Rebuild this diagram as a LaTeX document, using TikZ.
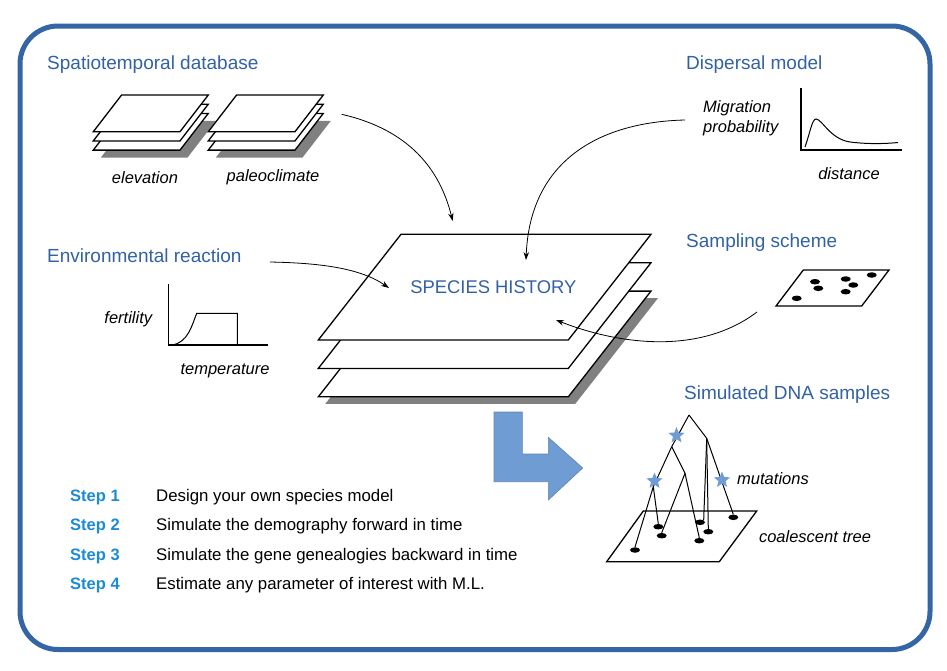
\documentclass[tikz,border=0pt]{standalone}
\usepackage{fontspec}
\setmainfont{Liberation Sans}
\usepackage{tikz}
\usetikzlibrary{arrows.meta,shapes.geometric}

\definecolor{frameblue}{RGB}{52,101,164}
\definecolor{headblue}{RGB}{50,98,163}
\definecolor{stepblue}{RGB}{28,138,212}
\definecolor{arrowblue}{RGB}{111,156,210}
\definecolor{shadowgray}{RGB}{128,128,128}

\tikzset{
  >={Stealth[length=8pt,width=5.5pt]},
  heading/.style={anchor=west,inner sep=0pt,text=headblue,font=\fontsize{19}{22}\selectfont},
  lbl/.style={inner sep=0pt,font=\fontsize{16.5}{20}\selectfont\itshape},
  steplbl/.style={anchor=west,inner sep=0pt,text=stepblue,font=\fontsize{16.5}{20}\selectfont\bfseries},
  steptxt/.style={anchor=west,inner sep=0pt,font=\fontsize{16.8}{20}\selectfont},
  layer/.style={draw=black,fill=white,line width=1.3pt,line join=miter},
  dot/.style={ellipse,fill=black,inner sep=0pt,minimum width=10pt,minimum height=5.5pt},
  mut/.style={star,star points=5,star point ratio=2.3,fill=arrowblue,inner sep=0pt,minimum size=17pt},
  branch/.style={line width=1pt},
  feed/.style={->,line width=0.8pt},
}

% stack of three layers: bottom left (x,y), width, height, skew, gap, shadow offset
\newcommand{\layerstack}[7]{%
  \fill[shadowgray] (#1+#7,#2+2*#6+#7) -- ++(#3,0) -- ++(#5,-#4) -- ++(-#3,0) -- cycle;
  \foreach \k in {2,1,0}
    \draw[layer] (#1,#2+\k*#6) -- ++(#3,0) -- ++(#5,-#4) -- ++(-#3,0) -- cycle;
}

\begin{document}
\begin{tikzpicture}[x=1pt,y=-1pt]
  \useasboundingbox (0,0) rectangle (947,670);
  \draw[frameblue,line width=5pt,rounded corners=38pt] (20,26) rectangle (930,649.5);

  % headings
  \node[heading] (dbhead) at (47,65) {Spatiotemporal database};
  \node[heading] (disphead) at (686,65) {Dispersal model};
  \node[heading] (envhead) at (47,256) {Environmental reaction};
  \node[heading] (samphead) at (686,243) {Sampling scheme};
  \node[heading] (dnahead) at (684,395) {Simulated DNA samples};

  % spatiotemporal layers
  \layerstack{93.3}{131.7}{86.7}{36.7}{28.3}{9.2}{7.5}
  \layerstack{208.3}{131.7}{86.7}{36.7}{28.3}{9.2}{7.5}
  \node[lbl] (elev) at (145,177.5) {elevation};
  \node[lbl] (paleo) at (273,177.5) {paleoclimate};

  % species history
  \layerstack{318.3}{340}{250}{105.7}{82.7}{28.4}{7}
  \node[inner sep=0pt,text=headblue,font=\fontsize{18.4}{22}\selectfont] (hist) at (493.3,287) {SPECIES HISTORY};

  % dispersal model
  \draw[line width=1.5pt] (801,88) -- (801,150) -- (902,150);
  \draw[line width=1pt] (805,147) .. controls (810,133) and (812,119) .. (816,119)
    .. controls (822,119) and (830,139) .. (850,142) .. controls (870,144.5) and (888,143.5) .. (898,142.5);
  \node[lbl,anchor=west,align=left] (migr) at (703,118.5) {Migration\\probability};
  \node[lbl] (dist) at (849,173.5) {distance};

  % environmental reaction
  \draw[line width=1.5pt] (168.3,284) -- (168.3,345) -- (268.3,345);
  \draw[line width=1pt] (171.7,345) .. controls (188,343) and (192,325) .. (196.7,313.3)
    -- (237.3,313.3) -- (237.3,345);
  \node[lbl] (fert) at (128.3,319.5) {fertility};
  \node[lbl] (temp) at (225,370.5) {temperature};

  % sampling scheme
  \draw[line width=1.3pt] (776,306) -- (861.7,306) -- (889,270) -- (803.3,270) -- cycle;
  \node[dot] (s1) at (815,281.7) {};
  \node[dot] (s2) at (818.3,288.3) {};
  \node[dot] (s3) at (845.7,279) {};
  \node[dot] (s4) at (853.3,285) {};
  \node[dot] (s5) at (845.7,291.7) {};
  \node[dot] (s6) at (871.7,275) {};
  \node[dot] (s7) at (796.7,298.3) {};

  % arrows into the history
  \coordinate (dbout) at (341.7,114.3);
  \coordinate (dbin) at (452.7,221);
  \coordinate (dispout) at (685,120);
  \coordinate (dispin) at (526,260);
  \coordinate (envout) at (270,262);
  \coordinate (envin) at (389,288);
  \coordinate (sampout) at (757,312);
  \coordinate (sampin) at (556,320);
  \draw[feed] (dbout) .. controls (410,130) and (440,170) .. (dbin);
  \draw[feed] (dispout) .. controls (600,122) and (530,160) .. (dispin);
  \draw[feed] (envout) .. controls (320,263) and (360,268) .. (envin);
  \draw[feed] (sampout) .. controls (700,355) and (620,345) .. (sampin);

  % big arrow
  \filldraw[fill=arrowblue,draw=arrowblue!85!black,line width=0.6pt] (494,412) -- (522.3,412) -- (522.3,454)
    -- (548.3,454) -- (548.3,437.3) -- (582.7,468) -- (548.3,500) -- (548.3,481.7) -- (494,481.7) -- cycle;

  % coalescent tree
  \draw[line width=1.3pt] (606.7,561.7) -- (719.3,561.7) -- (756.7,511) -- (643.3,511) -- cycle;
  \coordinate (root) at (689,415);
  \coordinate (na) at (671.7,446.7);
  \coordinate (nb) at (653.3,486.7);
  \coordinate (nc) at (685,473.3);
  \coordinate (nd) at (706.7,438.3);
  \node[dot] (d1) at (635,550) {};
  \node[dot] (d2) at (658.3,526.7) {};
  \node[dot] (d3) at (661.7,535.7) {};
  \node[dot] (d4) at (700,522.3) {};
  \node[dot] (d5) at (708.3,531.7) {};
  \node[dot] (d6) at (699.3,540.7) {};
  \node[dot] (d7) at (733.3,517.3) {};
  \draw[branch] (root) -- (na) -- (nb) -- (d1.north);
  \draw[branch] (nb) -- (d2.north);
  \draw[branch] (na) -- (nc) -- (d3.north);
  \draw[branch] (nc) -- (d6.north);
  \draw[branch] (root) -- (nd) -- (d4.north east);
  \draw[branch] (nd) -- (d5.north);
  \draw[branch] (nd) -- (d7.north);
  \node[mut] (m1) at (676.5,435.5) {};
  \node[mut] (m2) at (654.5,481) {};
  \node[mut] (m3) at (722,480) {};
  \node[lbl] (muts) at (773,478.5) {mutations};
  \node[lbl] (coal) at (815,536.5) {coalescent tree};

  % steps
  \foreach \n/\y/\t in {1/497/Design your own species model,
                        2/526/Simulate the demography forward in time,
                        3/556/Simulate the gene genealogies backward in time,
                        4/585/Estimate any parameter of interest with M.L.}{
    \node[steplbl] (step\n) at (70,\y) {Step \n};
    \node[steptxt] (task\n) at (156,\y) {\t};
  }
\end{tikzpicture}
\end{document}
